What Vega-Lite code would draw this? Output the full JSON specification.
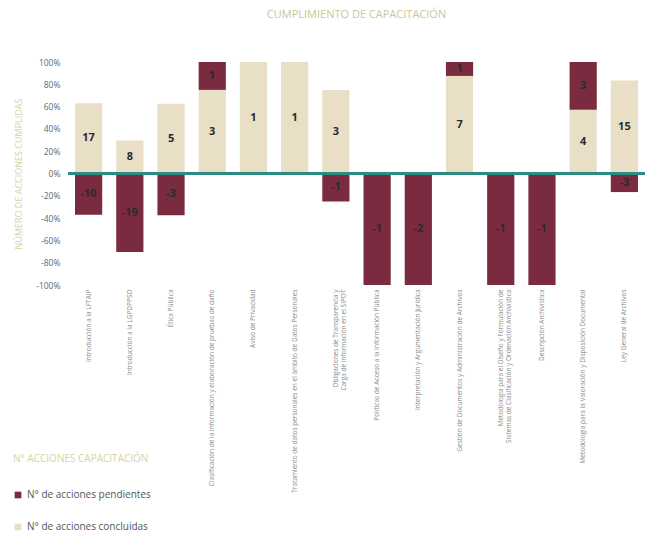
{
  "$schema": "https://vega.github.io/schema/vega-lite/v6.json",
  "width": 577,
  "height": 223,
  "autosize": {"type": "none"},
  "padding": {"left": 68, "top": 62, "right": 4, "bottom": 255},
  "background": "white",
  "config": {"view": {"stroke": null}, "font": "Open Sans", "axisY": {"labelOverlap": false, "labelFlush": false, "tickCount": 11}},
  "title": {
    "text": "CUMPLIMIENTO DE CAPACITACIÓN",
    "fontSize": 11,
    "fontWeight": "normal",
    "color": "#c9c79a",
    "anchor": "middle",
    "offset": 38
  },
  "data": {
    "values": [
      {"cat": "Introducción a la LFTAIP", "serie": "N° de acciones concluidas", "ord": 0, "pct": 0.6296, "n": "17"},
      {"cat": "Introducción a la LFTAIP", "serie": "N° de acciones pendientes", "ord": 1, "pct": -0.3704, "n": "-10"},
      {"cat": "Introducción a la LGPDPPSO", "serie": "N° de acciones concluidas", "ord": 0, "pct": 0.2963, "n": "8"},
      {"cat": "Introducción a la LGPDPPSO", "serie": "N° de acciones pendientes", "ord": 1, "pct": -0.7037, "n": "-19"},
      {"cat": "Ética Pública", "serie": "N° de acciones concluidas", "ord": 0, "pct": 0.625, "n": "5"},
      {"cat": "Ética Pública", "serie": "N° de acciones pendientes", "ord": 1, "pct": -0.375, "n": "-3"},
      {"cat": "Clasificación de la información y elaboración de pruebas de daño", "serie": "N° de acciones concluidas", "ord": 0, "pct": 0.75, "n": "3"},
      {"cat": "Clasificación de la información y elaboración de pruebas de daño", "serie": "N° de acciones pendientes", "ord": 1, "pct": 0.25, "n": "1"},
      {"cat": "Aviso de Privacidad", "serie": "N° de acciones concluidas", "ord": 0, "pct": 1.0, "n": "1"},
      {"cat": "Tratamiento de datos personales en el ámbito de Datos Personales", "serie": "N° de acciones concluidas", "ord": 0, "pct": 1.0, "n": "1"},
      {"cat": "Obligaciones de Transparencia y|Carga de información en el SIPOT", "serie": "N° de acciones concluidas", "ord": 0, "pct": 0.75, "n": "3"},
      {"cat": "Obligaciones de Transparencia y|Carga de información en el SIPOT", "serie": "N° de acciones pendientes", "ord": 1, "pct": -0.25, "n": "-1"},
      {"cat": "Políticas de Acceso a la Información Pública", "serie": "N° de acciones pendientes", "ord": 1, "pct": -1.0, "n": "-1"},
      {"cat": "Interpretación y Argumentación Jurídica", "serie": "N° de acciones pendientes", "ord": 1, "pct": -1.0, "n": "-2"},
      {"cat": "Gestión de Documentos y Administración de Archivos", "serie": "N° de acciones concluidas", "ord": 0, "pct": 0.875, "n": "7"},
      {"cat": "Gestión de Documentos y Administración de Archivos", "serie": "N° de acciones pendientes", "ord": 1, "pct": 0.125, "n": "1"},
      {"cat": "Metodología para el Diseño y Formulación de|Sistemas de Clasificación y Ordenación Archivística", "serie": "N° de acciones pendientes", "ord": 1, "pct": -1.0, "n": "-1"},
      {"cat": "Descripción Archivística", "serie": "N° de acciones pendientes", "ord": 1, "pct": -1.0, "n": "-1"},
      {"cat": "Metodología para la Valoración y Disposición Documental", "serie": "N° de acciones concluidas", "ord": 0, "pct": 0.5714, "n": "4"},
      {"cat": "Metodología para la Valoración y Disposición Documental", "serie": "N° de acciones pendientes", "ord": 1, "pct": 0.4286, "n": "3"},
      {"cat": "Ley General de Archivos", "serie": "N° de acciones concluidas", "ord": 0, "pct": 0.8333, "n": "15"},
      {"cat": "Ley General de Archivos", "serie": "N° de acciones pendientes", "ord": 1, "pct": -0.1667, "n": "-3"}
    ]
  },
  "transform": [
    {"stack": "pct", "groupby": ["cat"], "sort": [{"field": "ord", "order": "ascending"}], "as": ["y0", "y1"]},
    {"calculate": "(datum.y0 + datum.y1) / 2", "as": "mid"}
  ],
  "layer": [
    {
      "mark": {"type": "bar"},
      "encoding": {
        "x": {
          "field": "cat",
          "type": "nominal",
          "sort": null,
          "scale": {"paddingInner": 0.34, "paddingOuter": 0.17},
          "axis": {
            "title": null,
            "labelAngle": -90,
            "labelFontSize": 6.5,
            "labelColor": "#8a8a8a",
            "labelExpr": "split(datum.label, '|')",
            "labelLimit": 250,
            "labelPadding": 4,
            "ticks": false,
            "domain": false
          }
        },
        "y": {
          "field": "y0",
          "type": "quantitative",
          "scale": {"domain": [-1, 1], "nice": false},
          "axis": {
            "title": "NÚMERO DE ACCIONES CUMPLIDAS",
            "titleColor": "#d6d4a4",
            "titleFontSize": 9,
            "titleFontWeight": "normal",
            "titlePadding": 12,
            "values": [-1, -0.8, -0.6, -0.4, -0.2, 0, 0.2, 0.4, 0.6, 0.8, 1],
            "tickCount": 11,
            "labelExpr": "replace(format(datum.value, '.0%'), '−', '-')",
            "labelOverlap": false,
            "labelFontSize": 8.5,
            "labelColor": "#666666",
            "labelPadding": 8,
            "grid": false,
            "ticks": false,
            "domain": false
          }
        },
        "y2": {"field": "y1"},
        "color": {
          "field": "serie",
          "type": "nominal",
          "scale": {
            "domain": ["N° de acciones pendientes", "N° de acciones concluidas"],
            "range": ["#7b2b3f", "#e9dfc7"]
          },
          "legend": {
            "title": "N° ACCIONES CAPACITACIÓN",
            "titleColor": "#d6d4a4",
            "titleFontSize": 10,
            "titleFontWeight": "normal",
            "titlePadding": 26,
            "labelFontSize": 10,
            "labelColor": "#555555",
            "symbolType": "square",
            "symbolSize": 45,
            "symbolStrokeWidth": 0,
            "rowPadding": 22,
            "orient": "none",
            "legendX": -55,
            "legendY": 392
          }
        }
      }
    },
    {
      "mark": {"type": "rule", "color": "#2a8c82", "strokeWidth": 2},
      "encoding": {"y": {"datum": 0}}
    },
    {
      "mark": {"type": "text", "fontWeight": "bold", "fontSize": 11, "color": "#2b2b2b"},
      "encoding": {
        "x": {"field": "cat", "type": "nominal", "sort": null},
        "y": {"field": "mid", "type": "quantitative"},
        "text": {"field": "n", "type": "nominal"}
      }
    }
  ]
}
